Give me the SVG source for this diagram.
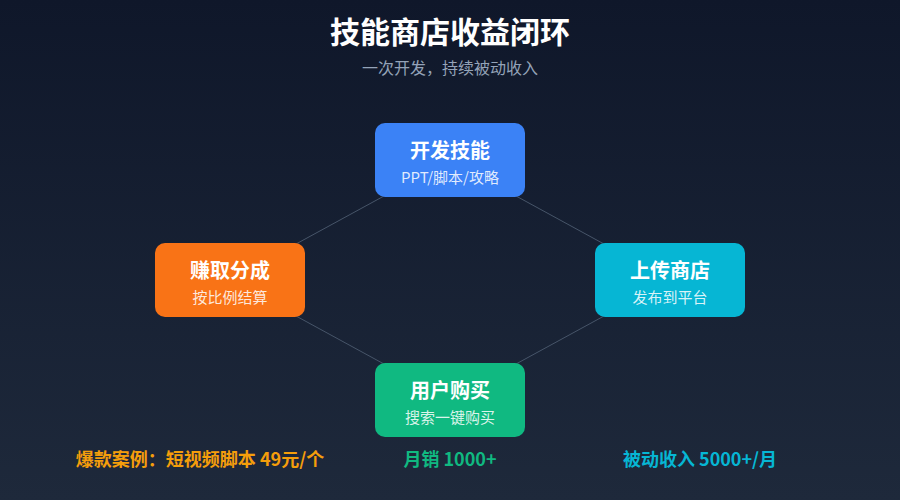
<svg xmlns="http://www.w3.org/2000/svg" width="900" height="500" viewBox="0 0 900 500">
<defs>
<linearGradient id="bg" x1="0" y1="0" x2="0" y2="1"><stop offset="0" stop-color="#0f172a"/><stop offset="1" stop-color="#1e293b"/></linearGradient>
<style>
text{font-family:"Noto Sans CJK SC","Noto Sans",sans-serif;text-anchor:middle}
.t{font-size:20px;font-weight:bold;fill:#fff}
.s{font-size:15px;fill:#fff;fill-opacity:0.85}
.c{stroke:#475569;stroke-width:1;fill:none}
.b{font-size:18px;font-weight:bold}
</style>
</defs>
<rect width="900" height="500" fill="url(#bg)"/>
<text x="450" y="43" font-size="30" font-weight="bold" fill="#fff">技能商店收益闭环</text>
<text x="450" y="74" font-size="16" fill="#94a3b8">一次开发，持续被动收入</text>
<g id="connectors">
<line class="c" x1="450" y1="160" x2="670" y2="280"/>
<line class="c" x1="670" y1="280" x2="450" y2="400"/>
<line class="c" x1="450" y1="400" x2="230" y2="280"/>
<line class="c" x1="230" y1="280" x2="450" y2="160"/>
</g>
<g id="node-dev"><rect x="375" y="123" width="150" height="74" rx="10" fill="#3b82f6"/><text class="t" x="450" y="158">开发技能</text><text class="s" x="450" y="183">PPT/脚本/攻略</text></g>
<g id="node-upload"><rect x="595" y="243" width="150" height="74" rx="10" fill="#06b6d4"/><text class="t" x="670" y="278">上传商店</text><text class="s" x="670" y="303">发布到平台</text></g>
<g id="node-buy"><rect x="375" y="363" width="150" height="74" rx="10" fill="#10b981"/><text class="t" x="450" y="398">用户购买</text><text class="s" x="450" y="423">搜索一键购买</text></g>
<g id="node-earn"><rect x="155" y="243" width="150" height="74" rx="10" fill="#f97316"/><text class="t" x="230" y="278">赚取分成</text><text class="s" x="230" y="303">按比例结算</text></g>
<text class="b" x="200" y="466" fill="#f59e0b">爆款案例：短视频脚本 49元/个</text>
<text class="b" x="450" y="466" fill="#10b981">月销 1000+</text>
<text class="b" x="700" y="466" fill="#06b6d4">被动收入 5000+/月</text>
</svg>
